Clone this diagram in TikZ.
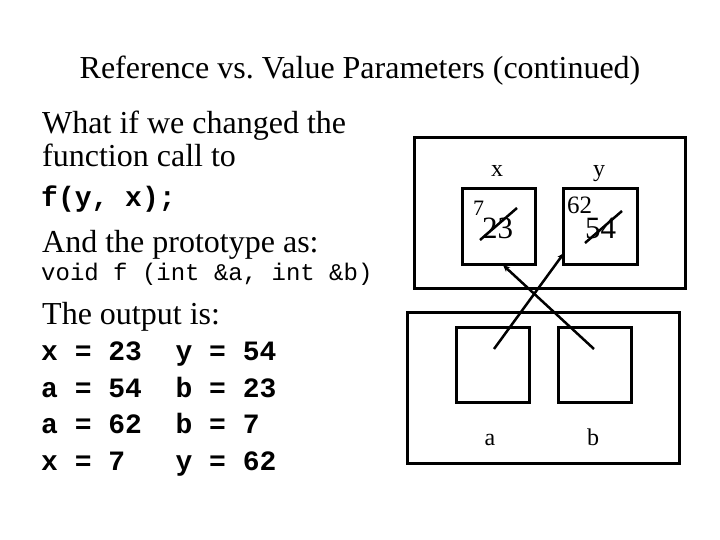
\documentclass[tikz,border=0pt]{standalone}
\usepackage{fontspec}
\setmainfont{Liberation Serif}
\setmonofont{Liberation Mono}
\usetikzlibrary{arrows.meta}
\newcommand{\fs}[1]{\fontsize{#1}{#1}\selectfont}
\frenchspacing
\begin{document}
\begin{tikzpicture}[x=1pt,y=-1pt,
  txt/.style={inner sep=0pt,anchor=base west},
  ctxt/.style={inner sep=0pt,anchor=base},
  frame/.style={draw,line width=3pt,inner sep=0pt},
  cell/.style={draw,line width=3pt,inner sep=0pt,minimum width=73pt,minimum height=75pt},
  strike/.style={line width=2.5pt},
  ref/.style={line width=2.5pt,-{Stealth[length=7pt,width=6pt]}}]
\useasboundingbox[fill=white] (0,0) rectangle (720,540);
% title
\node[ctxt] (title) at (360,79) {\fs{32}Reference vs. Value Parameters (continued)};
% left text
\node[txt] (l1) at (42,134) {\fs{32}What if we changed the};
\node[txt] (l2) at (42,167) {\fs{32}function call to};
\node[txt] (l3) at (41,207) {\fs{28}\ttfamily\bfseries f(y,~x);};
\node[txt] (l4) at (42,252) {\fs{32}And the prototype as:};
\node[txt] (l5) at (41,280) {\fs{24}\ttfamily void~f~(int~\&a,~int~\&b)};
\node[txt] (l6) at (42,324) {\fs{32}The output is:};
\node[txt] (o1) at (41,360) {\fs{28}\ttfamily\bfseries x~=~23~~y~=~54};
\node[txt] (o2) at (41,397) {\fs{28}\ttfamily\bfseries a~=~54~~b~=~23};
\node[txt] (o3) at (41,433) {\fs{28}\ttfamily\bfseries a~=~62~~b~=~7};
\node[txt] (o4) at (41,470) {\fs{28}\ttfamily\bfseries x~=~7~~~y~=~62};
% frames
\node[frame,minimum width=271pt,minimum height=150pt] (main) at (549.5,213) {};
\node[frame,minimum width=272pt,minimum height=151pt] (fn) at (543,387.5) {};
% cells
\node[cell] (bx) at (498.5,226.5) {};
\node[cell,minimum width=74pt] (by) at (600,226.5) {};
\node[cell] (ba) at (492.5,364.5) {};
\node[cell] (bb) at (594.5,364.5) {};
% labels
\node[ctxt] (lx) at (497,177) {\fs{24}x};
\node[ctxt] (ly) at (599,177) {\fs{24}y};
\node[ctxt] (la) at (490,445) {\fs{24}a};
\node[ctxt] (lb) at (593,445) {\fs{24}b};
% values
\node[txt] (v7) at (473,215) {\fs{22}7};
\node[txt] (v23) at (482,239) {\fs{31}23};
\node[txt] (v62) at (567,214) {\fs{25}62};
\node[txt] (v54) at (585,239) {\fs{31}54};
\draw[strike] (480,240) -- (517,208);
\draw[strike] (585,243) -- (622,211);
% references
\coordinate (pa) at (494,349);
\coordinate (pb) at (594,349);
\coordinate (ty) at (564,253);
\coordinate (tx) at (503,265);
\draw[ref] (pa) -- (ty);
\draw[ref] (pb) -- (tx);
\end{tikzpicture}
\end{document}
